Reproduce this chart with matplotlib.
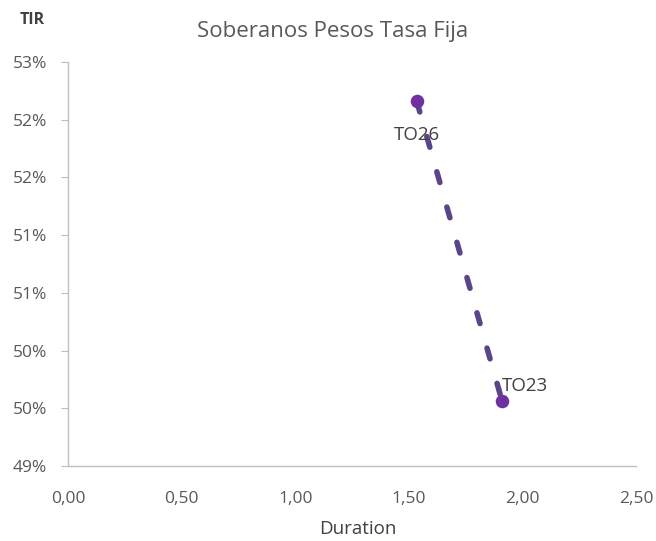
import numpy as np
import matplotlib
matplotlib.use('Agg')
import matplotlib.pyplot as plt
from matplotlib.ticker import FuncFormatter

# bond data: duration vs TIR
bonds = ['TO26', 'TO23']
duration = [1.535, 1.911]
tir = [0.5216, 0.4956]

plt.rcParams['font.family'] = ['Open Sans', 'DejaVu Sans']

fig = plt.figure(figsize=(6.56, 5.41), dpi=100)
ax = fig.add_axes([0.1037, 0.1386, 0.8658, 0.7468])

# dotted connector between the two bonds
ax.plot(duration, tir, color='#5b4589', lw=4.0, linestyle=(0, (2.0, 4.6)),
        dash_capstyle='round', solid_capstyle='round', zorder=2)
ax.scatter(duration, tir, s=95, color='#7030a0', zorder=3, linewidths=0)

ax.annotate(bonds[0], (duration[0], tir[0]), xytext=(0, -24),
            textcoords='offset points', ha='center', va='center',
            fontsize=13.5, color='#404040')
ax.annotate(bonds[1], (duration[1], tir[1]), xytext=(0, 11),
            textcoords='offset points', ha='left', va='center',
            fontsize=13.5, color='#404040')

ax.set_xlim(0, 2.5)
ax.set_ylim(0.49, 0.525)
ax.set_xticks(np.arange(0, 2.51, 0.5))
ax.set_yticks(np.arange(0.49, 0.5251, 0.005))
ax.xaxis.set_major_formatter(FuncFormatter(lambda v, p: ('%.2f' % v).replace('.', ',')))
ax.yaxis.set_major_formatter(FuncFormatter(lambda v, p: '%d%%' % int(np.floor(v * 100 + 0.5 + 1e-6))))

for s in ['top', 'right']:
    ax.spines[s].set_visible(False)
for s in ['left', 'bottom']:
    ax.spines[s].set_color('#bfbfbf')
    ax.spines[s].set_linewidth(1.0)
ax.tick_params(axis='y', length=5, color='#bfbfbf', labelsize=12.5,
               labelcolor='#595959', pad=10)
ax.tick_params(axis='x', length=0, labelsize=12.5, labelcolor='#595959', pad=18)

fig.text(358 / 656, 1 - 529 / 541, 'Duration', fontsize=13.5, color='#404040',
         ha='center', va='center')
fig.text(32 / 656, 1 - 20 / 541, 'TIR', fontsize=11.5, fontweight='bold', color='#404040',
         ha='center', va='center')
fig.suptitle('Soberanos Pesos Tasa Fija', x=333 / 656, y=1 - 31 / 541, va='center',
             fontsize=16, color='#595959')

plt.savefig('out.png', dpi=100)
